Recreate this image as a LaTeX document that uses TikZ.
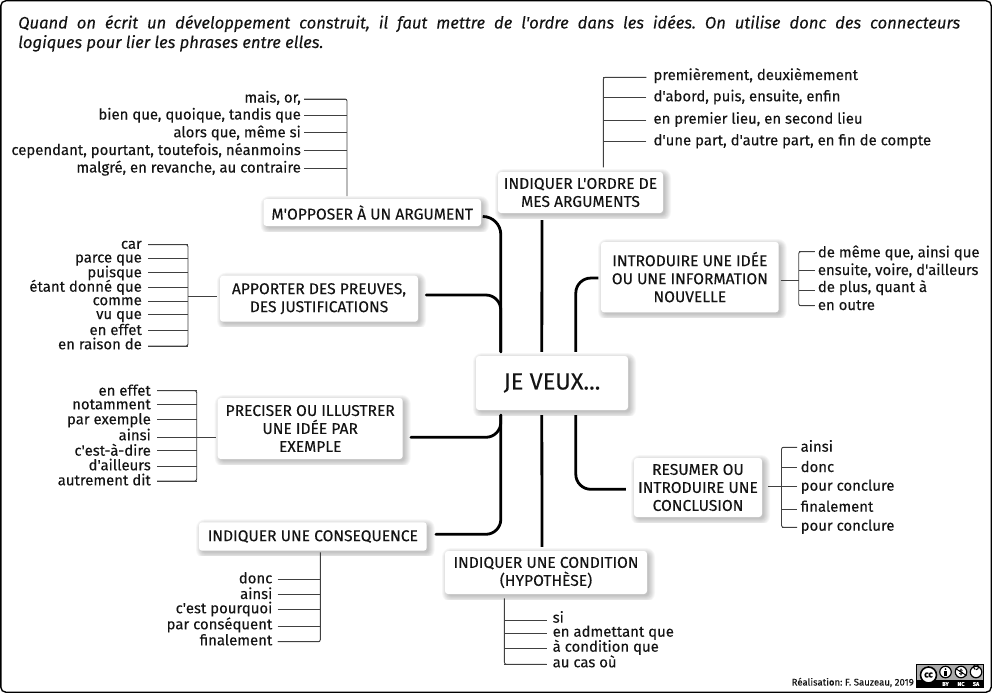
\documentclass[tikz,border=0pt]{standalone}
\usepackage{fontspec}
\setmainfont{Fira Sans}[Ligatures=TeXOff,FakeBold=0.15]
\frenchspacing
\definecolor{txt}{HTML}{141414}
\definecolor{lnk}{HTML}{404040}
\definecolor{badge}{HTML}{AAAAAA}
\tikzset{
  mapbox/.style={fill=white,rounded corners=3pt,inner sep=0pt,align=center,text=txt,font=\fontsize{15.6}{18}\selectfont},
  leaf/.style={inner sep=0pt,text=txt,font=\fontsize{14.9}{16}\selectfont},
  lk/.style={draw=lnk,line width=0.9pt},
  elbow/.style={draw=lnk,line width=0.9pt,rounded corners=2pt},
  trunk/.style={draw=black,line width=2.8pt,rounded corners=15pt,line cap=round},
}
\newcommand{\mapbx}[6]{%
  \begin{scope}
    \clip (#2-3,#3-3) rectangle (#4+11,#5+5);
    \foreach \k in {6,5,4,3,2,1,0}{
      \fill[black,opacity=.035,rounded corners={(3+\k)*1pt}] (#2+3-\k,#3+3-\k) rectangle (#4+2+\k,#5+2+\k);
    }
  \end{scope}
  \pgfmathsetmacro{\bw}{#4-#2}\pgfmathsetmacro{\bh}{#5-#3}
  \node[mapbox,minimum width=\bw pt,minimum height=\bh pt] (#1) at ({(#2+#4)/2},{(#3+#5)/2}) {#6};
}
\newcommand{\leavesL}[4]{%
  \foreach \n/\by/\ly/\t in {#4}{
    \node[leaf,anchor=base east] (\n) at (#1,\by) {\t};
    \draw[lk] ([xshift=#2 pt,yshift={(\by-\ly)*1pt}]\n.base east) coordinate (c\n) -- (c\n -| #3);
  }}
\newcommand{\leavesR}[4]{%
  \foreach \n/\by/\ly/\t in {#4}{
    \node[leaf,anchor=base west] (\n) at (#1,\by) {\t};
    \draw[lk] ([xshift=-#2 pt,yshift={(\by-\ly)*1pt}]\n.base west) coordinate (c\n) -- (c\n -| #3);
  }}
\begin{document}
\begin{tikzpicture}[x=1pt,y=-1pt]
\useasboundingbox (0,0) rectangle (992,693);
\fill[white] (0,0) rectangle (992,693);
\draw[black,line width=1.4pt,rounded corners=5pt] (0.8,0.8) rectangle (991.2,692.2);

\node[anchor=north west,inner sep=0pt,text width=942pt,align=justify,text=txt,font=\fontsize{16.6}{19.5}\selectfont\itshape] (head) at (18,15)
 {{\parfillskip=0pt Quand on écrit un développement construit, il faut mettre de l'ordre dans les idées. On utilise donc des connecteurs\par}logiques pour lier les phrases entre elles.};

\coordinate (sopp) at (347,196);
\coordinate (sapp) at (188,296.7);
\coordinate (spre) at (196.7,437.3);
\coordinate (scon) at (320.3,552.3);
\coordinate (sord) at (603.3,167.3);
\coordinate (sidee) at (798.7,280);
\coordinate (sres) at (781.5,486.7);
\coordinate (scnd) at (504.4,598.3);

\mapbx{veux}{476}{356}{628}{410}{\fontsize{23.5}{26}\selectfont JE VEUX...}
\mapbx{opp}{263.5}{199}{481}{226}{M'OPPOSER À UN ARGUMENT}
\mapbx{app}{220}{275.7}{418}{321.7}{APPORTER DES PREUVES,\\DES JUSTIFICATIONS}
\mapbx{pre}{217.7}{398}{402.7}{459}{PRECISER OU ILLUSTRER\\UNE IDÉE PAR\\EXEMPLE}
\mapbx{con}{199}{522.3}{426.7}{550.7}{INDIQUER UNE CONSEQUENCE}
\mapbx{ord}{498}{172}{663}{213}{INDIQUER L'ORDRE DE\\MES ARGUMENTS}
\mapbx{idee}{601}{242}{778.7}{312.3}{INTRODUIRE UNE IDÉE\\OU UNE INFORMATION\\NOUVELLE}
\mapbx{res}{634}{458}{762}{517}{RESUMER OU\\INTRODUIRE UNE\\CONCLUSION}
\mapbx{cnd}{445}{551}{647}{594}{INDIQUER UNE CONDITION\\(HYPOTHÈSE)}

\coordinate (tl) at ([xshift=25pt,yshift=4pt]veux.north west);
\coordinate (tm) at ([xshift=66pt,yshift=4pt]veux.north west);
\coordinate (tr) at ([xshift=100pt,yshift=4pt]veux.north west);
\coordinate (bl) at ([xshift=25pt,yshift=-5pt]veux.south west);
\coordinate (bm) at ([xshift=66pt,yshift=-5pt]veux.south west);
\coordinate (br) at ([xshift=100pt,yshift=-5pt]veux.south west);
\draw[trunk,rounded corners=18pt] ([xshift=2pt,yshift=-4pt]opp.east) -| (tl);
\draw[trunk] ([xshift=8pt,yshift=3.7pt]app.east) -| (tl);
\draw[trunk] ([xshift=8pt,yshift=-8.8pt]pre.east) -| (bl);
\draw[trunk] ([xshift=9pt,yshift=2.2pt]con.east) -| (bl);
\draw[trunk,line cap=butt] ([yshift=-7pt]ord.south) ++(-38.5pt,0) coordinate (om) -- (tm);
\draw[trunk,line cap=butt] (bm) -- ([yshift=4pt,xshift=-4pt]cnd.north);
\draw[trunk,line cap=butt] ([xshift=-2.5pt,yshift=-0.9pt]idee.west) -| (tr);
\draw[trunk,line cap=butt] (br) |- ([xshift=-8pt,yshift=-1.8pt]res.west);

\leavesL{301}{3}{sopp}{o1/102.5/99/{mais, or,},o2/119.5/115/{bien que, quoique, tandis que},o3/137.3/132.7/{alors que, même si},o4/155/150.7/{cependant, pourtant, toutefois, néanmoins},o5/172.5/168/{malgré, en revanche, au contraire}}
\draw[elbow] (co1) -| (sopp);
\leavesL{142}{6}{sapp}{a1/248.8/244.7/car,a2/262.5/258/parce que,a3/277.3/272.7/puisque,a4/291.7/287.3/étant donné que,a5/305.2/301/comme,a6/319/314.3/vu que,a7/335/330.7/en effet,a8/349.3/346/en raison de}
\draw[elbow] (ca1) -| (sapp) |- (ca8);
\draw[lk,shorten >=2.5pt] (sapp) -- (sapp -| app.west);
\leavesL{151}{6}{spre}{p1/395.7/390.7/en effet,p2/409.3/404/notamment,p3/424.3/419.3/par exemple,p4/440.3/437.3/ainsi,p5/455.7/450.7/c'est-à-dire,p6/470.3/466.3/d'ailleurs,p7/485.3/481/autrement dit}
\draw[elbow] (cp1) -| (spre) |- (cp7);
\draw[lk,shorten >=2pt] (spre) -- (spre -| pre.west);
\leavesL{272.5}{5}{scon}{q1/583.3/579.3/donc,q2/599/594.7/ainsi,q3/613.3/609.7/c'est pourquoi,q4/629.3/626.3/par conséquent,q5/645.3/641.7/finalement}
\draw[elbow] (scon) |- (cq5);
\leavesR{653.3}{7}{sord}{r1/80/77.3/{premièrement, deuxièmement},r2/101.3/97.7/{d'abord, puis, ensuite, enfin},r3/123.7/120/{en premier lieu, en second lieu},r4/145.3/141.7/{d'une part, d'autre part, en fin de compte}}
\draw[elbow] (cr1) -| (sord);
\leavesR{817.7}{3}{sidee}{i1/257.3/251.7/{de même que, ainsi que},i2/275/270/{ensuite, voire, d'ailleurs},i3/292/290.7/{de plus, quant à},i4/310/305.7/en outre}
\draw[elbow] (ci1) -| (sidee) |- (ci4);
\draw[lk,shorten >=2pt] (sidee) -- (sidee -| idee.east);
\leavesR{800.5}{3.5}{sres}{s1/451.7/447.3/ainsi,s2/472/467.3/donc,s3/490.7/486.7/pour conclure,s4/511.7/509/finalement,s5/530.7/527.3/pour conclure}
\draw[elbow] (cs1) -| (sres) |- (cs5);
\draw[lk,shorten >=6pt] (cs3) -- (cs3 -| res.east);
\leavesR{552.5}{6}{scnd}{h1/622.7/620.3/si,h2/636.7/633.7/en admettant que,h3/651.7/648.3/à condition que,h4/667.3/664.3/au cas où}
\draw[elbow] (scnd) |- (ch4);

\node[anchor=base east,inner sep=0pt,text=txt,font=\fontsize{9.6}{10}\selectfont] (credit) at (914,685.5) {Réalisation: F. Sauzeau, 2019};
\fill[badge,draw=black,line width=1pt] (916.5,664.5) rectangle (983.5,687.5);
\fill[black] (916.5,680) rectangle (983.5,687.5);
\node[circle,fill=white,draw=black,line width=1.6pt,minimum size=16pt,inner sep=0pt,font=\fontsize{9}{9}\selectfont\bfseries] (bcc) at (928.5,675) {cc};
\node[circle,fill=white,draw=black,line width=1.2pt,minimum size=11.5pt,inner sep=0pt] (bby) at (945.5,672) {};
\node[circle,fill=white,draw=black,line width=1.2pt,minimum size=11.5pt,inner sep=0pt,font=\fontsize{7}{7}\selectfont\bfseries] (bnc) at (961,672) {\$};
\node[circle,fill=white,draw=black,line width=1.2pt,minimum size=11.5pt,inner sep=0pt] (bsa) at (976,672) {};
\fill[black] (945.5,669.2) circle (1pt);
\fill[black] (944.2,670.6) rectangle (946.8,676);
\draw[black,line width=0.9pt] (955.5,668.5) -- (966.5,675.5);
\draw[black,line width=1.1pt] (976,669.6) arc[start angle=90,end angle=-250,x radius=2.5pt,y radius=-2.5pt];
\node[inner sep=0pt,text=white,font=\fontsize{5.5}{6}\selectfont\bfseries] (lby) at (945.5,684) {BY};
\node[inner sep=0pt,text=white,font=\fontsize{5.5}{6}\selectfont\bfseries] (lnc) at (961,684) {NC};
\node[inner sep=0pt,text=white,font=\fontsize{5.5}{6}\selectfont\bfseries] (lsa) at (976,684) {SA};
\end{tikzpicture}
\end{document}
